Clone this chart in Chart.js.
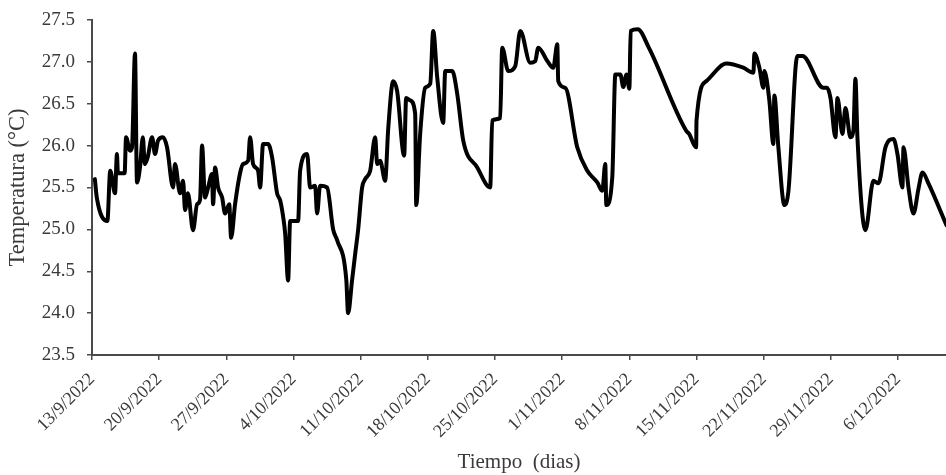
<!DOCTYPE html>
<html>
<head>
<meta charset="utf-8">
<script src="https://cdn.jsdelivr.net/npm/chart.js@4/dist/chart.umd.min.js"></script>
<style>
html,body{margin:0;padding:0;background:#fff;}
#wrap{width:946px;height:475px;position:relative;}
</style>
</head>
<body>
<div id="wrap"><canvas id="c" width="946" height="475"></canvas></div>
<script>
// Days elapsed since 13/9/2022
const dayOffsets = [0.3,0.5,1.6,1.9,2.4,2.6,2.7,3.4,3.55,3.96,4.17,4.48,4.69,5.0,5.3,5.5,5.8,6.26,6.57,6.88,7.4,7.82,8.45,8.65,9.18,9.49,9.7,10.0,10.53,10.95,11.26,11.47,11.78,12.1,12.5,12.62,12.83,13.14,13.56,13.87,14.3,14.5,14.91,15.43,15.75,16.27,16.48,16.79,17.31,17.52,17.83,18.35,18.77,19.29,19.6,19.92,20.13,20.44,20.65,21.48,21.69,22.42,22.73,23.25,23.46,23.77,24.5,25.13,25.55,26.5,26.69,27.11,27.42,27.74,28.15,28.47,28.99,29.51,29.72,30.03,30.55,30.87,31.39,31.8,32.53,32.74,33.16,33.68,33.79,34.2,34.72,35.25,35.56,35.98,36.6,36.81,37.54,38.06,38.69,40.15,41.5,41.71,42.54,42.75,43.38,44.11,44.63,45.67,46.19,46.51,47.45,48.07,48.49,48.59,49.32,50.57,51.62,52.66,53.18,53.49,53.6,54.22,54.54,55.06,55.37,55.7,56.0,56.14,56.88,58.03,61.91,62.23,62.96,63.0,64.02,66.11,67.88,68.93,69.03,69.55,69.97,70.07,70.59,71.01,71.11,71.53,72.16,72.58,73.51,74.04,76.23,76.6,76.96,77.48,77.69,78.21,78.52,79.04,79.35,79.56,79.77,80.6,81.44,81.96,82.69,83.52,83.94,84.46,84.57,85.09,85.61,86.14,86.55,87.17,89.05];
const temps = [25.6,25.38,25.1,25.7,25.43,25.9,25.67,25.67,26.1,25.94,25.98,27.1,25.56,25.74,26.1,25.78,25.86,26.1,25.9,26.06,26.1,25.98,25.5,25.78,25.43,25.58,25.23,25.43,24.99,25.3,25.35,26.0,25.38,25.5,25.66,25.3,25.74,25.5,25.38,25.19,25.3,24.9,25.3,25.67,25.78,25.82,26.1,25.78,25.7,25.5,26.02,26.02,25.86,25.43,25.35,25.15,24.95,24.39,25.1,25.1,25.7,25.9,25.5,25.52,25.19,25.52,25.5,25.0,24.87,24.4,24.0,24.4,24.7,25.0,25.5,25.6,25.7,26.1,25.78,25.82,25.58,26.2,26.77,26.65,25.88,26.57,26.54,26.38,25.29,26.14,26.69,26.74,27.37,26.81,26.27,26.89,26.89,26.62,26.06,25.74,25.5,26.3,26.33,27.17,26.89,26.95,27.37,26.99,27.01,27.17,27.01,26.93,27.21,26.77,26.69,25.98,25.7,25.56,25.46,25.78,25.29,25.62,26.85,26.85,26.7,26.85,26.68,27.37,27.39,27.17,26.18,26.14,25.98,26.3,26.77,26.98,26.93,26.87,27.1,26.93,26.69,26.89,26.54,26.02,26.6,25.98,25.29,25.46,27.07,27.07,26.69,26.69,26.57,26.1,26.57,26.14,26.45,26.1,26.18,26.8,26.1,24.99,25.58,25.55,25.98,26.08,25.9,25.5,25.98,25.5,25.19,25.49,25.68,25.55,25.05];
const tickLabels = ['13/9/2022','20/9/2022','27/9/2022','4/10/2022','11/10/2022','18/10/2022','25/10/2022','1/11/2022','8/11/2022','15/11/2022','22/11/2022','29/11/2022','6/12/2022'];
const tickDays = [0,7,14,21,28,35,42,49,56,63,70,77,84];
const xMaxDay = 89;
const yTicks = [23.5,24.0,24.5,25.0,25.5,26.0,26.5,27.0,27.5];

const points = dayOffsets.map((d, i) => ({x: d, y: temps[i]}));
const serif = "'Liberation Serif', 'DejaVu Serif', serif";
const axisColor = '#4a4a4a';
const textColor = '#3a3a3a';

new Chart(document.getElementById('c'), {
  type: 'line',
  data: {
    datasets: [{
      data: points,
      borderColor: '#000000',
      borderWidth: 4,
      pointRadius: 0,
      cubicInterpolationMode: 'monotone',
      fill: false,
      borderJoinStyle: 'round',
      borderCapStyle: 'round'
    }]
  },
  options: {
    responsive: false,
    animation: false,
    devicePixelRatio: 1,
    layout: {padding: {top: 20, right: 0, left: 0, bottom: 0}},
    plugins: {legend: {display: false}, tooltip: {enabled: false}},
    scales: {
      x: {
        type: 'linear',
        min: 0,
        max: xMaxDay,
        afterBuildTicks: s => { s.ticks = tickDays.map(v => ({value: v})); },
        afterFit: s => { s.height = 120; s.paddingRight = 0; },
        grid: {display: true, drawOnChartArea: false, drawTicks: true, tickLength: 5, color: axisColor, lineWidth: 1.5},
        border: {display: true, color: axisColor, width: 2},
        ticks: {
          autoSkip: false,
          minRotation: 45,
          maxRotation: 45,
          padding: 9,
          color: textColor,
          font: {family: serif, size: 18},
          callback: (v) => { const i = tickDays.indexOf(v); return i >= 0 ? tickLabels[i] : ''; }
        },
        title: {display: true, text: 'Tiempo  (dias)', color: textColor, font: {family: serif, size: 21}, padding: {top: 0, bottom: 0}}
      },
      y: {
        min: 23.5,
        max: 27.5,
        afterBuildTicks: s => { s.ticks = yTicks.map(v => ({value: v})); },
        afterFit: s => { s.width = 92; s.paddingTop = 0; s.paddingBottom = 0; },
        grid: {display: true, drawOnChartArea: false, drawTicks: true, tickLength: 5, color: axisColor, lineWidth: 1.5},
        border: {display: true, color: axisColor, width: 2},
        ticks: {
          padding: 12,
          color: textColor,
          font: {family: serif, size: 19},
          callback: v => Number(v).toFixed(1)
        },
        title: {display: true, text: 'Temperatura (°C)', color: textColor, font: {family: serif, size: 22.5}, padding: {top: 5, bottom: 0}}
      }
    }
  }
});
</script>
</body>
</html>
